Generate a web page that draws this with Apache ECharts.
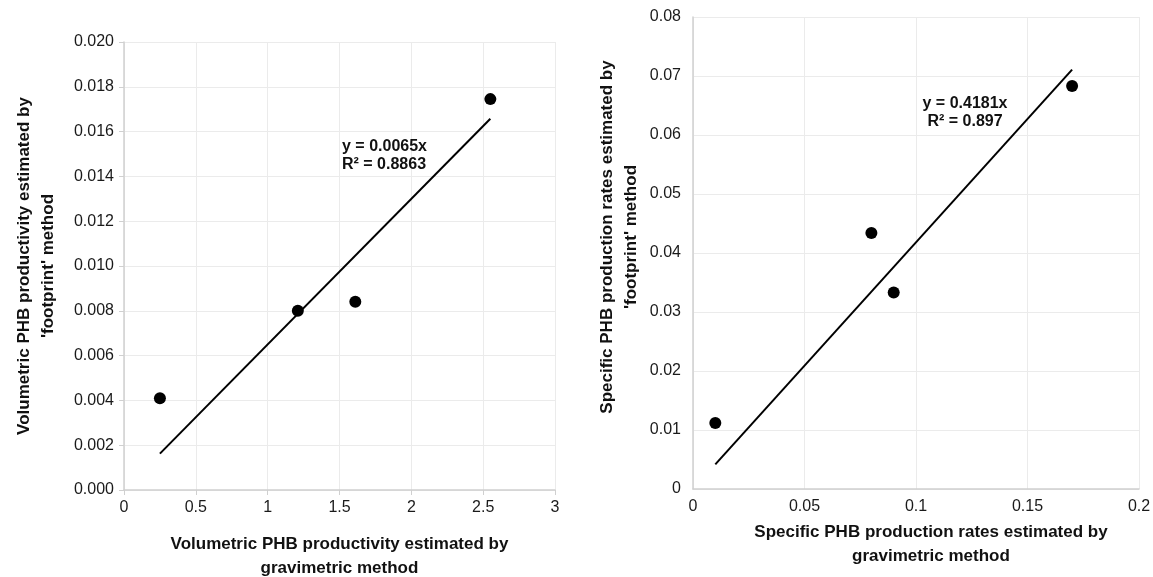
<!DOCTYPE html>
<html>
<head>
<meta charset="utf-8">
<script src="https://cdn.jsdelivr.net/npm/echarts@6/dist/echarts.min.js"></script>
<style>
  html, body { margin: 0; padding: 0; background: #fff; }
  #chart { width: 1153px; height: 577px; }
</style>
</head>
<body>
<div id="chart"></div>
<script>
// 左图：体积产率
var volX = [0.25, 1.21, 1.61, 2.55];
var volY = [0.0041, 0.0080, 0.0084, 0.01745];
var volSlope = 0.0065;
var volEq = ['y = 0.0065x', 'R² = 0.8863'];

// 右图：比生产速率
var spX = [0.01, 0.08, 0.09, 0.17];
var spY = [0.0112, 0.0434, 0.0333, 0.0683];
var spSlope = 0.4181;
var spEq = ['y = 0.4181x', 'R² = 0.897'];

function pairs (xs, ys) {
  return xs.map(function (x, i) { return [x, ys[i]]; });
}
// 趋势线（过原点），取数据的 x 范围
function trend (xs, k) {
  var lo = Math.min.apply(null, xs), hi = Math.max.apply(null, xs);
  return [[lo, k * lo], [hi, k * hi]];
}

var myChart = echarts.init(document.getElementById('chart'));

var font = 'Liberation Sans, Arial, sans-serif';
var axisLineColor = '#d0d0d0';
var gridColor = '#ebebeb';
var tickText = { color: '#1a1a1a', fontSize: 16, fontFamily: font };
var titleText = { color: '#111', fontSize: 17, fontWeight: 'bold', fontFamily: font, lineHeight: 24 };
var eqFont = 'bold 16px ' + font;

function valueAxis (opt) {
  return Object.assign({
    type: 'value',
    axisLine: { show: true, lineStyle: { color: axisLineColor, width: 1.5 } },
    axisTick: { show: false },
    splitLine: { show: true, lineStyle: { color: gridColor } },
    axisLabel: tickText,
    nameLocation: 'middle',
    nameTextStyle: titleText
  }, opt);
}

// 公式文字（每行单独一个 text）
function eqText (lines, x, y, align) {
  return lines.map(function (t, i) {
    return {
      type: 'text', x: x, y: y + i * 17.5, z: 100,
      style: { text: t, font: eqFont, fill: '#111', align: align, verticalAlign: 'middle' }
    };
  });
}

var option = {
  animation: false,
  grid: [
    { left: 124, right: 598, top: 42, bottom: 87, outerBoundsMode: 'none' },
    { left: 693, right: 14, top: 17, bottom: 88, outerBoundsMode: 'none' }
  ],
  xAxis: [
    valueAxis({
      gridIndex: 0, min: 0, max: 3, interval: 0.5,
      axisTick: { show: true, length: 5, lineStyle: { color: axisLineColor } },
      name: 'Volumetric PHB productivity estimated by\ngravimetric method',
      nameGap: 42,
      axisLabel: Object.assign({ margin: 10 }, tickText)
    }),
    valueAxis({
      gridIndex: 1, min: 0, max: 0.2, interval: 0.05,
      name: 'Specific PHB production rates estimated by\ngravimetric method',
      nameGap: 29,
      nameTextStyle: Object.assign({ padding: [0, 0, 0, 30] }, titleText),
      axisLabel: Object.assign({ margin: 10 }, tickText)
    })
  ],
  yAxis: [
    valueAxis({
      gridIndex: 0, min: 0, max: 0.02, interval: 0.002,
      axisTick: { show: true, length: 5, lineStyle: { color: axisLineColor } },
      name: "Volumetric PHB productivity estimated by\n'footprint' method",
      nameGap: 64,
      axisLabel: Object.assign({ margin: 10, formatter: function (v) { return v.toFixed(3); } }, tickText)
    }),
    valueAxis({
      gridIndex: 1, min: 0, max: 0.08, interval: 0.01,
      name: "Specific PHB production rates estimated by\n'footprint' method",
      nameGap: 50,
      nameTextStyle: Object.assign({ padding: [0, 0, 0, 32] }, titleText),
      axisLabel: Object.assign({ margin: 12 }, tickText)
    })
  ],
  series: [
    {
      type: 'line', xAxisIndex: 0, yAxisIndex: 0,
      data: trend(volX, volSlope),
      symbol: 'none', lineStyle: { color: '#000', width: 2 }
    },
    {
      type: 'scatter', xAxisIndex: 0, yAxisIndex: 0,
      data: pairs(volX, volY),
      symbolSize: 12, itemStyle: { color: '#000', opacity: 1 }
    },
    {
      type: 'line', xAxisIndex: 1, yAxisIndex: 1,
      data: trend(spX, spSlope),
      symbol: 'none', lineStyle: { color: '#000', width: 2 }
    },
    {
      type: 'scatter', xAxisIndex: 1, yAxisIndex: 1,
      data: pairs(spX, spY),
      symbolSize: 12, itemStyle: { color: '#000', opacity: 1 }
    }
  ],
  graphic: eqText(volEq, 342, 147, 'left').concat(eqText(spEq, 965, 104, 'center'))
};

myChart.setOption(option);
window.addEventListener('resize', function () {
  myChart.resize();
});
</script>
</body>
</html>
